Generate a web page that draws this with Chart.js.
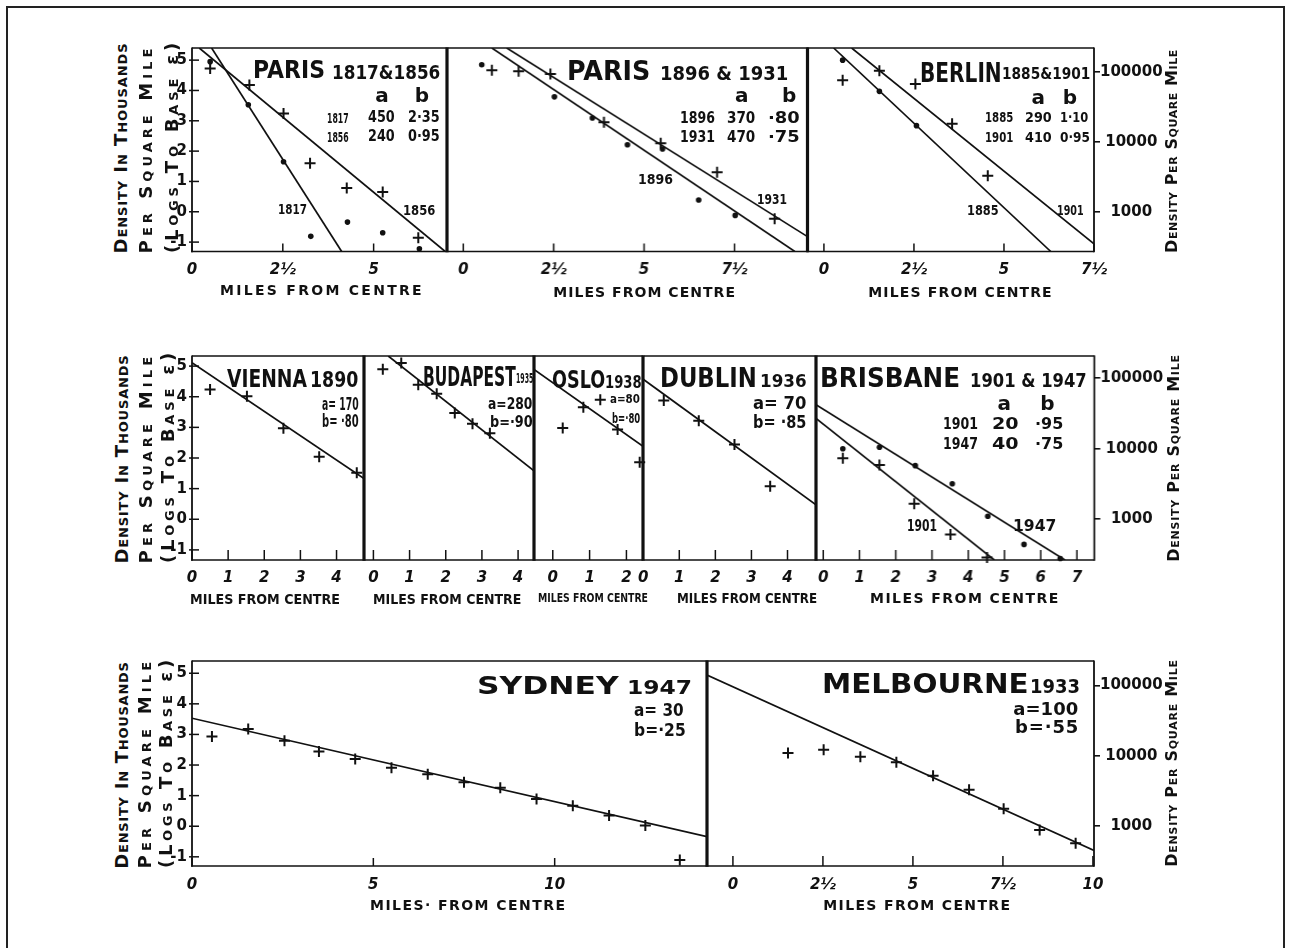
<!DOCTYPE html>
<html><head><meta charset="utf-8">
<script src="https://cdn.jsdelivr.net/npm/chart.js@4.4.0/dist/chart.umd.min.js"></script>
<style>
html,body{margin:0;padding:0;background:#fff;}
#page{position:relative;width:1290px;height:948px;overflow:hidden;background:#fff;}
#frame{position:absolute;left:6px;top:6px;width:1279px;height:1000px;border:2px solid #222;box-sizing:border-box;}
.pw{position:absolute;}
.ann{position:absolute;white-space:nowrap;line-height:1;font-family:'DejaVu Sans',sans-serif;font-weight:bold;color:#111;transform-origin:0 0;}
.vt{position:absolute;white-space:nowrap;line-height:1;font-family:'DejaVu Sans',sans-serif;font-weight:bold;color:#111;font-variant:small-caps;transform-origin:50% 50%;}
.nv{font-variant:normal;}
</style></head>
<body><div id="page"><div id="frame"></div></div>
<script>
// ---------- tick values / labels ----------
const yTickValues = [-1, 0, 1, 2, 3, 4, 5];
const yTickLabels = ['-1', '0', '1', '2', '3', '4', '5'];
const densityTicks = [1000, 10000, 100000];
const densityLabels = ['1000', '10000', '100000'];
const halfMileTicks = [0, 2.5, 5, 7.5, 10];
const halfMileLabels = ['0', '2½', '5', '7½', '10'];
const mileTicks = [0, 1, 2, 3, 4, 5, 6, 7];
const mileLabels = ['0', '1', '2', '3', '4', '5', '6', '7'];
const sydneyTicks = [0, 5, 10];
const sydneyLabels = ['0', '5', '10'];

// ---------- Paris 1817 & 1856 ----------
const paris1817X = [0.5, 1.55, 2.52, 3.27, 4.28, 5.25, 6.26];
const paris1817Y = [4.95, 3.53, 1.65, -0.81, -0.34, -0.69, -1.22];
const paris1856X = [0.5, 1.58, 2.52, 3.25, 4.26, 5.25, 6.23];
const paris1856Y = [4.72, 4.18, 3.24, 1.6, 0.78, 0.65, -0.86];
const paris1817FitX = [0.54, 4.12];
const paris1817FitY = [5.4, -1.31];
const paris1856FitX = [0.2, 6.97];
const paris1856FitY = [5.4, -1.31];

// ---------- Paris 1896 & 1931 ----------
const paris1896X = [0.51, 2.52, 3.57, 4.54, 5.51, 6.51, 7.52];
const paris1896Y = [4.85, 3.79, 3.09, 2.21, 2.07, 0.39, -0.12];
const paris1931X = [0.79, 1.53, 2.41, 3.89, 5.46, 7.02, 8.61];
const paris1931Y = [4.67, 4.63, 4.54, 2.95, 2.26, 1.3, -0.23];
const paris1896FitX = [0.79, 9.17];
const paris1896FitY = [5.4, -1.31];
const paris1931FitX = [1.2, 9.52];
const paris1931FitY = [5.4, -0.82];

// ---------- Berlin 1885 & 1901 ----------
const berlin1885X = [0.52, 1.54, 2.57];
const berlin1885Y = [5.0, 3.97, 2.84];
const berlin1901X = [0.52, 1.54, 2.54, 3.56, 4.55];
const berlin1901Y = [4.34, 4.65, 4.21, 2.9, 1.19];
const berlin1885FitX = [0.27, 6.3];
const berlin1885FitY = [5.4, -1.31];
const berlin1901FitX = [0.77, 7.5];
const berlin1901FitY = [5.4, -1.06];

// ---------- Vienna 1890 ----------
const viennaX = [0.5, 1.52, 2.53, 3.52, 4.56];
const viennaY = [4.24, 4.02, 2.97, 2.04, 1.52];
const viennaFitX = [0, 4.76];
const viennaFitY = [5.11, 1.33];

// ---------- Budapest 1935 ----------
const budapestX = [0.26, 0.77, 1.24, 1.75, 2.25, 2.74, 3.22];
const budapestY = [4.9, 5.1, 4.39, 4.1, 3.47, 3.12, 2.81];
const budapestFitX = [0.41, 4.44];
const budapestFitY = [5.33, 1.58];

// ---------- Oslo 1938 ----------
const osloX = [0.27, 0.83, 1.29, 1.76, 2.36];
const osloY = [2.98, 3.66, 3.9, 2.93, 1.86];
const osloFitX = [-0.51, 2.45];
const osloFitY = [4.89, 2.38];

// ---------- Dublin 1936 ----------
const dublinX = [0.57, 1.54, 2.53, 3.52];
const dublinY = [3.88, 3.22, 2.44, 1.08];
const dublinFitX = [0, 4.79];
const dublinFitY = [4.57, 0.47];

// ---------- Brisbane 1901 & 1947 ----------
const brisbane1947X = [0.54, 1.55, 2.54, 3.56, 4.54, 5.54, 6.54];
const brisbane1947Y = [2.3, 2.35, 1.75, 1.16, 0.1, -0.82, -1.28];
const brisbane1901X = [0.54, 1.55, 2.51, 3.51, 4.52];
const brisbane1901Y = [1.99, 1.77, 0.51, -0.5, -1.25];
const brisbane1947FitX = [-0.2, 6.67];
const brisbane1947FitY = [3.74, -1.33];
const brisbane1901FitX = [-0.2, 4.72];
const brisbane1901FitY = [3.29, -1.33];

// ---------- Sydney 1947 ----------
const sydneyX = [0.55, 1.55, 2.55, 3.5, 4.5, 5.5, 6.5, 7.5, 8.5, 9.5, 10.5, 11.5, 12.5, 13.45];
const sydneyY = [2.93, 3.18, 2.79, 2.44, 2.2, 1.91, 1.7, 1.44, 1.26, 0.89, 0.67, 0.35, 0.02, -1.1];
const sydneyFitX = [0, 14.2];
const sydneyFitY = [3.53, -0.34];

// ---------- Melbourne 1933 ----------
const melbourneX = [1.53, 2.52, 3.54, 4.54, 5.56, 6.56, 7.52, 8.52, 9.52];
const melbourneY = [2.39, 2.5, 2.27, 2.09, 1.65, 1.19, 0.57, -0.12, -0.56];
const melbourneFitX = [-0.72, 10.03];
const melbourneFitY = [4.94, -0.79];

// =============== layout & drawing ===============
const INK = '#111';
const FONT = "'DejaVu Sans', sans-serif";
const page = document.getElementById('page');

const L = (x, y) => ({x, y, kind: 'line'});
const C = (x, y) => ({x, y, kind: 'cross'});
const D = (x, y) => ({x, y, kind: 'dot'});

const row1Y = [-1.31, 5.40], row2Y = [-1.33, 5.33], row3Y = [-1.30, 5.40];

const panels = [
  {rect: [192, 47.5, 447, 251], x: [0, 7.02], y: row1Y, xt: halfMileTicks.slice(0, 3), xl: halfMileLabels.slice(0, 3),
   left: true, right: false, fl: 1.8, fr: 3.2, tick: 8, pad: 10,
   series: [L(paris1817FitX, paris1817FitY), L(paris1856FitX, paris1856FitY), D(paris1817X, paris1817Y), C(paris1856X, paris1856Y)]},
  {rect: [447, 47.5, 806.5, 251], x: [-0.45, 9.52], y: row1Y, xt: halfMileTicks.slice(0, 4), xl: halfMileLabels.slice(0, 4),
   left: false, right: false, fl: 0, fr: 3.2, tick: 8, pad: 10,
   series: [L(paris1896FitX, paris1896FitY), L(paris1931FitX, paris1931FitY), D(paris1896X, paris1896Y), C(paris1931X, paris1931Y)]},
  {rect: [806.5, 47.5, 1093.5, 251], x: [-0.47, 7.5], y: row1Y, xt: halfMileTicks.slice(0, 4), xl: halfMileLabels.slice(0, 4),
   left: false, right: true, fl: 0, fr: 1.8, tick: 8, pad: 10,
   series: [L(berlin1885FitX, berlin1885FitY), L(berlin1901FitX, berlin1901FitY), D(berlin1885X, berlin1885Y), C(berlin1901X, berlin1901Y)]},

  {rect: [192, 356, 364, 560], x: [0, 4.76], y: row2Y, xt: mileTicks.slice(0, 5), xl: mileLabels.slice(0, 5),
   left: true, right: false, fl: 1.8, fr: 3.2, tick: 10, pad: 9,
   series: [L(viennaFitX, viennaFitY), C(viennaX, viennaY)]},
  {rect: [364, 356, 534, 560], x: [-0.26, 4.44], y: row2Y, xt: mileTicks.slice(0, 5), xl: mileLabels.slice(0, 5),
   left: false, right: false, fl: 0, fr: 3.2, tick: 10, pad: 9,
   series: [L(budapestFitX, budapestFitY), C(budapestX, budapestY)]},
  {rect: [534, 356, 643, 560], x: [-0.51, 2.45], y: row2Y, xt: mileTicks.slice(0, 3), xl: mileLabels.slice(0, 3),
   left: false, right: false, fl: 0, fr: 3.2, tick: 10, pad: 9,
   series: [L(osloFitX, osloFitY), C(osloX, osloY)]},
  {rect: [643, 356, 816, 560], x: [0, 4.79], y: row2Y, xt: mileTicks.slice(0, 5), xl: mileLabels.slice(0, 5),
   left: false, right: false, fl: 0, fr: 3.2, tick: 10, pad: 9,
   series: [L(dublinFitX, dublinFitY), C(dublinX, dublinY)]},
  {rect: [816, 356, 1093.5, 560], x: [-0.2, 7.48], y: row2Y, xt: mileTicks, xl: mileLabels,
   left: false, right: true, fl: 0, fr: 1.8, tick: 10, pad: 9,
   series: [L(brisbane1947FitX, brisbane1947FitY), L(brisbane1901FitX, brisbane1901FitY), D(brisbane1947X, brisbane1947Y), C(brisbane1901X, brisbane1901Y)]},

  {rect: [192, 661, 707, 866], x: [0, 14.2], y: row3Y, xt: sydneyTicks, xl: sydneyLabels,
   left: true, right: false, fl: 1.8, fr: 3.2, tick: 8, pad: 10,
   series: [L(sydneyFitX, sydneyFitY), C(sydneyX, sydneyY)]},
  {rect: [707, 661, 1094, 866], x: [-0.72, 10.03], y: row3Y, xt: halfMileTicks, xl: halfMileLabels,
   left: false, right: true, fl: 0, fr: 1.8, tick: 10, pad: 10,
   series: [L(melbourneFitX, melbourneFitY), C(melbourneX, melbourneY)]}
];

const framePlugin = {
  id: 'frame',
  afterDraw(chart, args, o) {
    const {ctx, chartArea: a} = chart;
    ctx.save();
    ctx.strokeStyle = INK;
    const seg = (w, x1, y1, x2, y2) => {
      if (!w) return;
      ctx.lineWidth = w; ctx.beginPath(); ctx.moveTo(x1, y1); ctx.lineTo(x2, y2); ctx.stroke();
    };
    seg(1.3, a.left, a.top, a.right, a.top);
    seg(1.7, a.left - (o.fl ? 0.9 : 0), a.bottom, a.right, a.bottom);
    seg(o.fl, a.left, a.top - 0.6, a.left, a.bottom + 0.8);
    seg(o.fr, a.right, a.top - 0.6, a.right, a.bottom + 0.8);
    const xs = chart.scales.x;
    xs.ticks.forEach(t => {
      const px = xs.getPixelForValue(t.value);
      seg(1.5, px, a.bottom, px, a.bottom - o.tick);
    });
    if (o.yTicks) {
      const ys = chart.scales.y;
      ys.ticks.forEach(t => {
        const py = ys.getPixelForValue(t.value);
        seg(1.5, a.left - 3, py, a.left + 7, py);
      });
    }
    ctx.restore();
  }
};

function makePanel(p) {
  const [l, t, r, b] = p.rect;
  const ml = p.left ? 44 : 14, mr = p.right ? 80 : 14, mt = 14, mb = 38;
  const wrap = document.createElement('div');
  wrap.className = 'pw';
  wrap.style.left = (l - ml) + 'px';
  wrap.style.top = (t - mt) + 'px';
  wrap.style.width = (r - l + ml + mr) + 'px';
  wrap.style.height = (b - t + mt + mb) + 'px';
  const cv = document.createElement('canvas');
  wrap.appendChild(cv);
  page.appendChild(wrap);

  const datasets = p.series.map(s => {
    const data = s.x.map((v, i) => ({x: v, y: s.y[i]}));
    if (s.kind === 'line') return {data, showLine: true, pointRadius: 0, borderColor: INK, borderWidth: 1.7, fill: false};
    if (s.kind === 'cross') return {data, showLine: false, pointStyle: 'cross', pointRadius: 5.5, borderWidth: 2, borderColor: INK, backgroundColor: INK, clip: false};
    return {data, showLine: false, pointStyle: 'circle', pointRadius: 2.8, borderWidth: 0, borderColor: INK, backgroundColor: INK, clip: false};
  });

  const tickFont = {family: FONT, weight: 'bold', size: 15};
  const scales = {
    x: {
      type: 'linear', position: 'bottom', min: p.x[0], max: p.x[1],
      grid: {display: false, drawTicks: false}, border: {display: false},
      ticks: {autoSkip: false, maxRotation: 0, minRotation: 0, padding: p.pad, color: INK,
              font: {family: FONT, weight: 'bold', style: 'italic', size: 15},
              callback: (v, i) => p.xl[i]},
      afterBuildTicks: s => { s.ticks = p.xt.map(v => ({value: v})); },
      afterFit: s => { s.height = mb; }
    },
    y: {
      type: 'linear', position: 'left', min: p.y[0], max: p.y[1], display: p.left,
      grid: {display: false, drawTicks: false}, border: {display: false},
      ticks: {padding: 5, color: INK, font: tickFont, callback: (v, i) => yTickLabels[i]},
      afterBuildTicks: s => { s.ticks = yTickValues.map(v => ({value: v})); },
      afterFit: s => { if (p.left) s.width = ml; }
    }
  };
  if (p.right) {
    scales.yR = {
      type: 'linear', position: 'right', min: p.y[0], max: p.y[1],
      grid: {display: true, drawOnChartArea: false, drawTicks: true, tickLength: 6, color: INK, lineWidth: 1.6},
      border: {display: false},
      ticks: {padding: 0, crossAlign: 'center', color: INK, font: tickFont, callback: (v, i) => densityLabels[i]},
      afterBuildTicks: s => { s.ticks = densityTicks.map(v => ({value: Math.log(v / 1000)})); },
      afterFit: s => { s.width = mr; }
    };
  }
  new Chart(cv, {
    type: 'scatter',
    data: {datasets},
    options: {
      responsive: true, maintainAspectRatio: false, animation: false, events: [],
      layout: {padding: {left: p.left ? 0 : ml, right: p.right ? 0 : mr, top: mt, bottom: 0}},
      plugins: {legend: {display: false}, tooltip: {enabled: false},
                frame: {fl: p.fl, fr: p.fr, tick: p.tick, yTicks: p.left}},
      scales
    },
    plugins: [framePlugin]
  });
}
panels.forEach(makePanel);

// ---------- text annotations ----------
function place(html, x1, x2, base, size, mode) {
  const d = document.createElement('div');
  d.className = 'ann';
  d.innerHTML = html;
  d.style.fontSize = size + 'px';
  d.style.left = x1 + 'px';
  d.style.top = (base - 0.846 * size) + 'px';
  page.appendChild(d);
  const w = d.getBoundingClientRect().width;
  const tw = x2 - x1;
  const n = d.textContent.length;
  if (n === 1) {
    d.style.left = ((x1 + x2) / 2 - w / 2) + 'px';
  } else if (tw > w && mode !== 'sx') {
    d.style.letterSpacing = ((tw - w) / (n - 1)) + 'px';
  } else {
    d.style.transform = 'scaleX(' + (tw / w) + ')';
  }
}
const ann = [
  ['PARIS', 253, 325, 78.3, 24], ['1817&amp;1856', 331.7, 440, 79.3, 20],
  ['a', 377, 387, 101.7, 20], ['b', 417, 427, 101.7, 20],
  ['1817', 326.7, 348.3, 122.7, 14], ['450', 368.3, 395, 122.7, 15], ['2·35', 408.3, 440, 122.7, 15],
  ['1856', 326.7, 348.3, 141.7, 14], ['240', 368.3, 395, 141.7, 15], ['0·95', 408.3, 440, 141.7, 15],
  ['1817', 278, 307, 214, 14], ['1856', 402.7, 435, 215, 14],

  ['PARIS', 566.7, 650, 80, 26], ['1896 &amp; 1931', 660, 788.3, 80, 20],
  ['a', 735, 748.3, 101.7, 20], ['b', 783.3, 795, 101.7, 20],
  ['1896', 680, 715, 123.3, 15], ['370', 726.7, 755, 123.3, 15], ['·80', 768.3, 800, 123.3, 15, 'sx'],
  ['1931', 680, 715, 142.3, 15], ['470', 726.7, 755, 142.3, 15], ['·75', 768.3, 800, 142.3, 15, 'sx'],
  ['1896', 638.3, 673.3, 184, 14], ['1931', 756.7, 786.7, 204, 14],

  ['BERLIN', 920, 1001.7, 81.7, 26], ['1885&amp;1901', 1001.7, 1090, 80, 16],
  ['a', 1031.7, 1045, 104, 20], ['b', 1063.3, 1076.7, 104, 20],
  ['1885', 985, 1013.3, 121.7, 14], ['290', 1025, 1051.7, 121.7, 14], ['1·10', 1060, 1088.3, 121.7, 14],
  ['1901', 985, 1013.3, 141.7, 14], ['410', 1025, 1051.7, 141.7, 14], ['0·95', 1060, 1090, 141.7, 14],
  ['1885', 966.7, 998.3, 215, 14], ['1901', 1056.7, 1083.3, 215, 14],

  ['VIENNA', 226.7, 306.7, 387.3, 25], ['1890', 310, 358.3, 387.3, 21],
  ['a= 170', 321.7, 358.3, 410, 17], ['b= ·80', 321.7, 358.3, 427.3, 17],
  ['BUDAPEST', 423.3, 516, 386, 26], ['1935', 516, 533.3, 383.3, 14],
  ['a=280', 488.3, 532.7, 410, 16], ['b=·90', 490, 532.7, 427.3, 16],
  ['OSLO', 551.7, 605, 388.3, 25], ['1938', 605, 641.7, 388.3, 18],
  ['a=80', 610, 640, 403.3, 13], ['b=·80', 611.7, 640, 422.7, 14],
  ['DUBLIN', 660, 756.7, 387.3, 26], ['1936', 760, 806.7, 387.3, 18],
  ['a= 70', 753.3, 806.7, 409.3, 18], ['b= ·85', 753.3, 806.7, 428.3, 18],
  ['BRISBANE', 820, 960, 387.3, 26], ['1901 &amp; 1947', 970, 1086.7, 387.3, 20],
  ['a', 996.7, 1011.7, 410, 20], ['b', 1040, 1055, 410, 20],
  ['1901', 943.3, 978.3, 430, 15], ['20', 991.7, 1018.3, 430, 15, 'sx'], ['·95', 1035, 1063.3, 430, 15, 'sx'],
  ['1947', 943.3, 978.3, 449.3, 15], ['40', 991.7, 1018.3, 449.3, 15, 'sx'], ['·75', 1035, 1063.3, 449.3, 15, 'sx'],
  ['1901', 906.7, 936.7, 531.7, 16], ['1947', 1013.3, 1056.7, 531.7, 16],

  ['SYDNEY', 477.4, 619, 694.3, 25, 'sx'], ['1947', 626.6, 691.7, 694.3, 20, 'sx'],
  ['a= 30', 634.3, 684, 716.7, 18], ['b=·25', 634.3, 686, 736.7, 18],
  ['MELBOURNE', 821.7, 1028.3, 693.3, 26, 'sx'], ['1933', 1030, 1080, 693.3, 20],
  ['a=100', 1013.3, 1078.3, 715, 18], ['b=·55', 1015, 1078.3, 733.3, 18],

  ['MILES FROM CENTRE', 220, 421.7, 295, 14], ['MILES FROM CENTRE', 553.3, 735, 296.7, 14],
  ['MILES FROM CENTRE', 868.3, 1051.7, 296.7, 14],
  ['MILES FROM CENTRE', 190, 340, 604, 14], ['MILES FROM CENTRE', 373.3, 521.7, 604, 14],
  ['MILES FROM CENTRE', 538.3, 648.3, 601.7, 13], ['MILES FROM CENTRE', 676.7, 816.7, 603.3, 14],
  ['MILES FROM CENTRE', 870, 1058.3, 602.7, 14],
  ['MILES· FROM CENTRE', 370, 565, 910, 14], ['MILES FROM CENTRE', 823.3, 1010, 910, 14]
];
ann.forEach(a => place(a[0], a[1], a[2], a[3], a[4], a[5]));

// ---------- rotated axis titles ----------
function vtitle(html, cx, y1, y2, size) {
  const d = document.createElement('div');
  d.className = 'vt';
  d.innerHTML = html;
  d.style.fontSize = size + 'px';
  page.appendChild(d);
  let r = d.getBoundingClientRect();
  const w = r.width, h = r.height;
  const len = y2 - y1;
  const n = d.textContent.length;
  let k = 1, ls = 0;
  if (len > w) { ls = (len - w) / (n - 1); d.style.letterSpacing = ls + 'px'; }
  else { k = len / w; }
  r = d.getBoundingClientRect();
  const w2 = r.width;
  const cy = (y1 + y2) / 2 - ls / 2;
  d.style.left = (cx - w2 / 2) + 'px';
  d.style.top = (cy - h / 2) + 'px';
  d.style.transform = 'rotate(-90deg) scaleX(' + k + ')';
}
const leftT1 = 'Density In Thousands';
const leftT2 = 'Per Square Mile';
const leftT3 = '(Logs To Base <span class="nv">ε</span>)';
const rightT = 'Density Per Square Mile';
[[47.5, 253, 43, 48.3, 42.7], [356, 563.3, 355, 356.7, 353], [661, 868.3, 661.7, 661.7, 660]].forEach((r, i) => {
  vtitle(leftT1, 121.7, r[2], r[1], 18);
  vtitle(leftT2, i === 2 ? 145 : 146.5, r[3], r[1], 18);
  vtitle(leftT3, i === 0 ? 171.7 : (i === 1 ? 168 : 166), r[4], r[1], 18);
});
vtitle(rightT, 1171.7, 50, 253.3, 16);
vtitle(rightT, 1173.3, 355, 561.7, 16);
vtitle(rightT, 1171.7, 660, 866.7, 16);
</script>
</body></html>
